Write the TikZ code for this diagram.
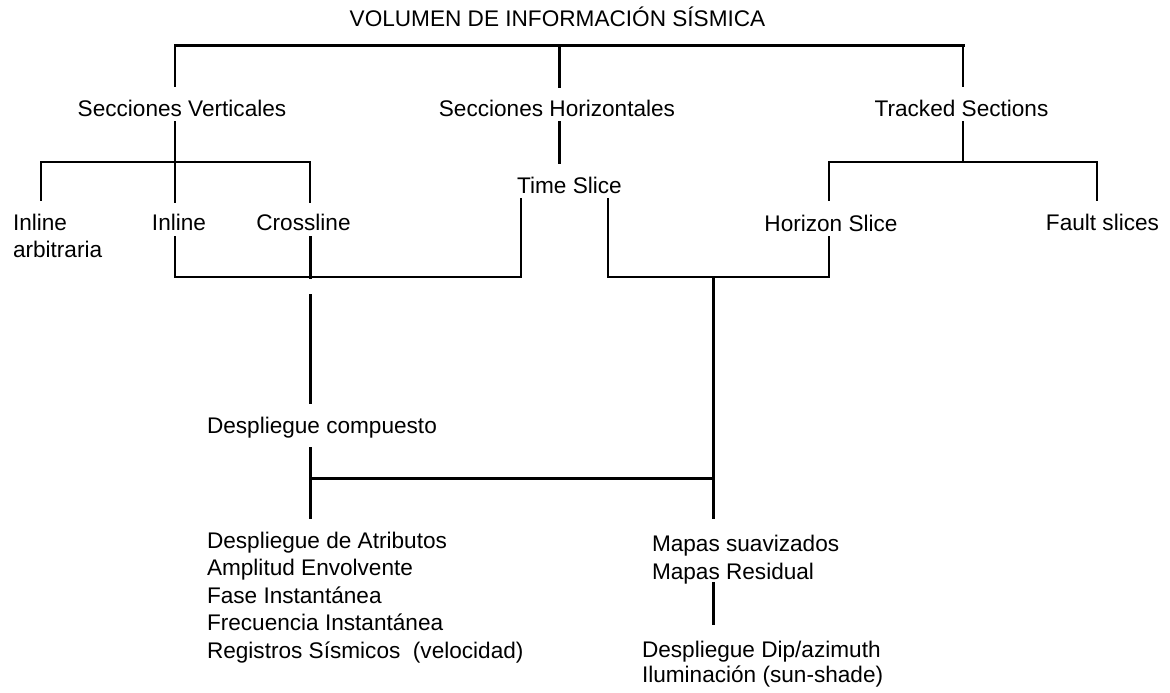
\documentclass[tikz,border=0pt]{standalone}
\usepackage{fontspec}
\setmainfont{Liberation Sans}
\begin{document}
\begin{tikzpicture}[x=1pt,y=-1pt,
  lbl/.style={inner sep=0pt,outer sep=0pt,font=\fontsize{22.6}{27.5}\selectfont},
  lblc/.style={lbl,anchor=base},
  lbll/.style={lbl,anchor=base west,align=left},
  thk/.style={line width=3pt,line cap=rect},
  med/.style={line width=2.5pt,line cap=rect},
  thn/.style={line width=2pt,line cap=rect}]
\useasboundingbox (0,0) rectangle (1170,693);
% ---- text nodes
\node[lblc] (title) at (557.5,27) {VOLUMEN DE INFORMACIÓN SÍSMICA};
\node[lblc] (sv) at (182,116) {Secciones Verticales};
\node[lblc] (sh) at (557,116) {Secciones Horizontales};
\node[lblc] (tr) at (961.5,116) {Tracked Sections};
\node[lblc] (tsl) at (569.5,193) {Time Slice};
\node[lbll,font=\fontsize{22.6}{27}\selectfont] (ila) at (13,257) {Inline\\arbitraria};
\node[lblc] (il) at (179,230) {Inline};
\node[lblc] (cl) at (303.5,230) {Crossline};
\node[lblc] (hs) at (831,231) {Horizon Slice};
\node[lblc] (fs) at (1102.5,230) {Fault slices};
\node[lbll] (dc) at (207,433) {Despliegue compuesto};
\node[lbll,font=\fontsize{22.6}{27.5}\selectfont] (da) at (207,658) {Despliegue de Atributos\\Amplitud Envolvente\\Fase Instantánea\\Frecuencia Instantánea\\Registros Sísmicos\ \ (velocidad)};
\node[lbll,font=\fontsize{22.6}{28}\selectfont] (ms) at (652,579) {Mapas suavizados\\Mapas Residual};
\node[lbll,font=\fontsize{22.6}{24.3}\selectfont] (dd) at (642,682) {Despliegue Dip/azimuth\\Iluminación (sun-shade)};
% ---- junction coordinates
\coordinate (t1) at (175,46);  \coordinate (t2) at (559,46);  \coordinate (t3) at (963,46);
\coordinate (svt) at (175,86); \coordinate (sht) at (559,86); \coordinate (trt) at (963,86);
\coordinate (svb) at (175,122); \coordinate (svj) at (175,162); \coordinate (ilt) at (175,202);
\coordinate (ilaj) at (41,162); \coordinate (ilat) at (41,200);
\coordinate (clj) at (310,162); \coordinate (clt) at (310,202);
\coordinate (shb) at (559,122); \coordinate (tslt) at (559,162);
\coordinate (trb) at (963,122); \coordinate (trj) at (963,162);
\coordinate (hsj) at (829,162); \coordinate (hst) at (829,200);
\coordinate (fsj) at (1097,162); \coordinate (fst) at (1097,200);
\coordinate (ilb) at (175,237); \coordinate (ilj) at (175,277);
\coordinate (clb) at (310,237); \coordinate (clj2) at (310,277);
\coordinate (tsla) at (521,199); \coordinate (tslaj) at (521,277);
\coordinate (tslb) at (608,199); \coordinate (tslbj) at (608,277);
\coordinate (hsb) at (829,237); \coordinate (hsj2) at (829,277);
\coordinate (rj) at (713,277); \coordinate (rb) at (713,517); \coordinate (rm) at (713,478);
\coordinate (dct) at (310,295); \coordinate (dca) at (310,402);
\coordinate (dcb) at (310,448); \coordinate (dcm) at (310,478); \coordinate (dae) at (310,517);
\coordinate (msb) at (713,583); \coordinate (ddt) at (713,623);
% ---- connectors
\draw[thk] (t1) -- (t3);
\draw[thn] (t1) -- (svt);
\draw[thk] (t2) -- (sht);
\draw[med] (t3) -- (trt);
\draw[thn] (svb) -- (ilt);
\draw[thn] (ilat) -- (ilaj) -- (clj) -- (clt);
\draw[thk] (shb) -- (tslt);
\draw[med] (trb) -- (trj);
\draw[thn] (hst) -- (hsj) -- (fsj) -- (fst);
\draw[thn] (ilb) -- (ilj) -- (tslaj) -- (tsla);
\draw[thk] (clb) -- (clj2);
\draw[thn] (tslb) -- (tslbj) -- (hsj2) -- (hsb);
\draw[thk] (rj) -- (rb);
\draw[thk] (dct) -- (dca);
\draw[thk] (dcb) -- (dae);
\draw[thk] (dcm) -- (rm);
\draw[thk] (msb) -- (ddt);
\end{tikzpicture}
\end{document}
